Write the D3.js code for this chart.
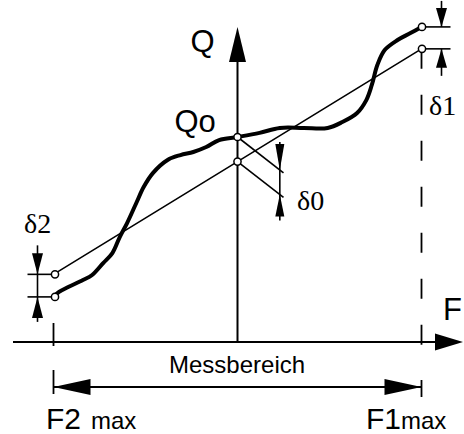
<html>

<head>
    <script src="https://d3js.org/d3.v7.min.js"></script>
</head>

<body style="margin:0;background:white">
    <svg></svg>
    <script>
        const width = 464
        const height = 434

        // F scaled so that F2max = -1 and F1max = 1, Q scaled so that Qo = 100
        const curveF = [-1, -0.97, -0.92, -0.84, -0.79, -0.73, -0.68, -0.64, -0.60, -0.55, -0.51, -0.46, -0.38, -0.31, -0.24, -0.17, -0.10, 0,
            0.12, 0.23, 0.36, 0.49, 0.57, 0.65, 0.70, 0.73, 0.76, 0.80, 0.87, 0.94, 1]
        const curveQ = [22, 24.4, 26.8, 30.2, 32.7, 38.5, 43.4, 51.2, 58, 67.8, 75.6, 82.4, 88.8, 91.2, 92.7, 95.1, 98.5, 100,
            102, 104.4, 104.4, 104.4, 107.3, 111.7, 118, 125.4, 135.1, 142.4, 147.3, 150.7, 153.7]
        // ideal straight characteristic
        const lineF = [-1, 0, 1]
        const lineQ = [33, 88, 143]
        // slanted helper lines for delta 0
        const helperF = [0, 0.25]
        const helperDQ = [0, -17.5]

        const labelQ = "Q"
        const labelF = "F"
        const labelQo = "Qo"
        const labelRange = "Messbereich"
        const labelF2 = ["F2", "max"]
        const labelF1 = ["F1", "max"]
        const deltaLabels = ["δ0", "δ1", "δ2"]

        const axisY = 342
        const xScale = d3.scaleLinear([-1, 1], [53.5, 421.5])
        const yScale = d3.scaleLinear([0, 100], [axisY, 137])
        const x0 = xScale(0)

        const sans = "'Liberation Sans', Arial, Helvetica, sans-serif"
        const serif = "'Liberation Serif', 'Times New Roman', serif"

        const svg = d3.select("svg")
            .attr("width", width)
            .attr("height", height)
            .attr("viewBox", [0, 0, width, height])

        // arrowhead: tip at (x,y), pointing in direction (dx,dy)
        function arrow(x, y, dx, dy, len, half) {
            const px = -dy, py = dx
            const bx = x - dx * len, by = y - dy * len
            svg.append("path")
                .attr("d", `M${x},${y}L${bx + px * half},${by + py * half}L${bx - px * half},${by - py * half}Z`)
                .attr("fill", "black")
        }
        function seg(x1, y1, x2, y2, w, dash) {
            svg.append("line")
                .attr("x1", x1).attr("y1", y1).attr("x2", x2).attr("y2", y2)
                .attr("stroke", "black")
                .attr("stroke-width", w)
                .attr("stroke-dasharray", dash || null)
        }

        // F axis
        seg(13, axisY, width - 10, axisY, 2)
        arrow(width - 1, axisY, 1, 0, 28, 8.5)
        // Q axis
        seg(x0, axisY, x0, 45, 2)
        arrow(x0, 27, 0, -1, 35, 8.5)

        // F2max tick and F1max dashed line
        seg(xScale(-1), axisY - 19, xScale(-1), axisY + 4, 1.8)
        seg(xScale(1), yScale(lineQ[2]), xScale(1), 355, 1.8, "20,26")

        // Messbereich dimension
        const rangeY = 387
        seg(xScale(-1), rangeY, xScale(1), rangeY, 2)
        arrow(xScale(-1), rangeY, -1, 0, 37, 8)
        arrow(xScale(1), rangeY, 1, 0, 37, 8)
        seg(xScale(-1), 370, xScale(-1), 394, 1.8)
        seg(xScale(1), 380, xScale(1), 397, 1.8)

        // straight line
        const I = d3.range(lineF.length)
        svg.append("path")
            .attr("fill", "none")
            .attr("stroke", "black")
            .attr("stroke-width", 1.6)
            .attr("d", d3.line().x(i => xScale(lineF[i])).y(i => yScale(lineQ[i]))(I))

        // helper lines from Qo and from the straight line at F = 0
        const q0 = curveQ[curveF.indexOf(0)]
        ;[q0, lineQ[1]].forEach(q => {
            svg.append("path")
                .attr("fill", "none")
                .attr("stroke", "black")
                .attr("stroke-width", 1.6)
                .attr("d", d3.line()
                    .x(i => xScale(helperF[i]))
                    .y(i => yScale(q + helperDQ[i]))(d3.range(helperF.length)))
        })

        // real characteristic
        const C = d3.range(curveF.length)
        svg.append("path")
            .attr("fill", "none")
            .attr("stroke", "black")
            .attr("stroke-width", 4)
            .attr("stroke-linejoin", "round")
            .attr("stroke-linecap", "round")
            .attr("d", d3.line().curve(d3.curveCatmullRom)
                .x(i => xScale(curveF[i])).y(i => yScale(curveQ[i]))(C))

        // delta 0 dimension
        const d0x = xScale(0.23)
        const tipTop = yScale(q0 + helperDQ[1] * 0.23 / 0.25)
        const tipBot = yScale(lineQ[1] + helperDQ[1] * 0.23 / 0.25)
        seg(d0x, tipTop - 28, d0x, tipBot + 26, 1.6)
        arrow(d0x, tipTop, 0, 1, 26, 4.5)
        arrow(d0x, tipBot, 0, -1, 22, 4.5)

        // delta 1 dimension
        const d1x = xScale(1) + 20
        const d1a = yScale(curveQ[curveQ.length - 1]), d1b = yScale(lineQ[2])
        seg(xScale(1), d1a, xScale(1) + 29, d1a, 1.6)
        seg(xScale(1), d1b, xScale(1) + 29, d1b, 1.6)
        seg(d1x, d1a - 26, d1x, d1a, 1.6)
        seg(d1x, d1b, d1x, d1b + 27, 1.6)
        arrow(d1x, d1a, 0, 1, 19, 5.5)
        arrow(d1x, d1b, 0, -1, 19, 5.5)

        // delta 2 dimension
        const d2x = xScale(-1) - 16
        const d2a = yScale(lineQ[0]), d2b = yScale(curveQ[0])
        seg(xScale(-1) - 26, d2a, xScale(-1), d2a, 1.6)
        seg(xScale(-1) - 26, d2b, xScale(-1), d2b, 1.6)
        seg(d2x, d2a - 29, d2x, d2b + 25, 1.6)
        arrow(d2x, d2a, 0, 1, 21, 5.5)
        arrow(d2x, d2b, 0, -1, 21, 5.5)

        // small circles
        const dots = [
            [curveF[0], curveQ[0]], [lineF[0], lineQ[0]],
            [0, q0], [lineF[1], lineQ[1]],
            [curveF[curveF.length - 1], curveQ[curveQ.length - 1]], [lineF[2], lineQ[2]]
        ]
        svg.selectAll(".dot").data(dots).join("circle")
            .attr("cx", d => xScale(d[0]) + (d[0] === -1 ? 1.5 : d[0] === 1 ? 0.5 : 0))
            .attr("cy", d => yScale(d[1]))
            .attr("r", 3.6)
            .attr("fill", "white")
            .attr("stroke", "black")
            .attr("stroke-width", 1.5)

        // labels
        function label(x, y, txt, size, family) {
            return svg.append("text")
                .attr("x", x).attr("y", y)
                .attr("font-family", family || sans)
                .attr("font-size", size)
                .attr("fill", "black")
                .text(txt)
        }
        label(x0 - 47, 52, labelQ, 31)
        label(x0 - 63, 132, labelQo, 31)
        label(443, 320, labelF, 31)
        label(169, 373, labelRange, 24)
        const f2 = label(46, 429, labelF2[0], 30)
        f2.append("tspan").attr("dx", 10).attr("font-size", 24).text(labelF2[1])
        const f1 = label(366, 429, labelF1[0], 30)
        f1.append("tspan").attr("font-size", 24).text(labelF1[1])
        label(297, 210, deltaLabels[0], 28, serif)
        label(429, 115, deltaLabels[1], 28, serif)
        label(24, 233, deltaLabels[2], 28, serif)
    </script>
</body>

</html>
